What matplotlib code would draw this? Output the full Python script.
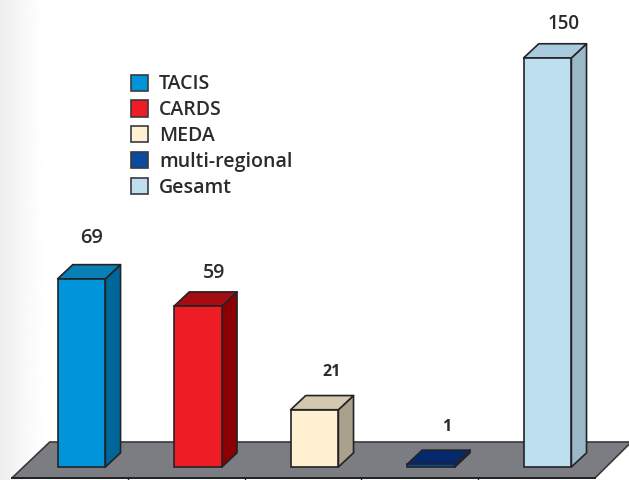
import numpy as np
import matplotlib
matplotlib.use('Agg')
import matplotlib.pyplot as plt
from matplotlib.patches import Patch

categories = ['TACIS', 'CARDS', 'MEDA', 'multi-regional', 'Gesamt']
values = [69, 59, 21, 1, 150]

# front, side, top colours of each bar
front_colours = ['#0095DB', '#EE1C25', '#FFF0D2', '#0D4BA0', '#BDDFEF']
side_colours = ['#00679B', '#8C0004', '#A9A18C', '#06296F', '#9BB8C8']
top_colours = ['#0880B5', '#A50D12', '#D3C9AE', '#04296F', '#A9CBDD']
legend_colours = ['#0095DB', '#EE1C25', '#FFF0D2', '#0A4AA0', '#BDDFEF']

# label placement in pixels from top of the bar, and font size
label_dx = [10, 16, 17, 16, 16]
label_dy = [41, 33, 38, 37, 34]
label_size = [14.5, 14, 11.5, 11.5, 13.5]
label_weight = ['semibold', 'semibold', 'bold', 'bold', 'semibold']

edge = '#232326'
bar_width = 0.41
depth_x = 0.13
depth_y = 5.2

fig = plt.figure(figsize=(6.29, 4.80), dpi=100)
ax = fig.add_axes([0, 0, 1, 1])

plt.rcParams['font.family'] = ['Open Sans', 'DejaVu Sans']

# page shadow on the left
shade = np.array([1.0 - 0.07 * np.linspace(1, 0, 50) ** 1.5])
ax.imshow(shade, cmap='gray', vmin=0, vmax=1, aspect='auto', zorder=0,
          extent=(-81.5 / 116.5, -31.5 / 116.5, -13 / 2.727, 467 / 2.727))

# one category = 116.5 px, one unit = 2.727 px
ax.set_xlim(-81.5 / 116.5, (629 - 81.5) / 116.5)
ax.set_ylim(-13 / 2.727, 467 / 2.727)

# floor
ax.fill([-0.597, -0.2725, 4.72, 4.408], [-4.03, 9.17, 9.17, -4.03],
        facecolor='#7C7D82', edgecolor='#3a3a3d', linewidth=1.2, zorder=1)

for i, v in enumerate(values):
    x0 = i - bar_width / 2
    x1 = i + bar_width / 2
    # side face
    ax.fill([x1, x1 + depth_x, x1 + depth_x, x1], [0, depth_y, v + depth_y, v],
            facecolor=side_colours[i], edgecolor=edge, linewidth=1.2,
            joinstyle='round', zorder=2)
    # top face
    ax.fill([x0, x0 + depth_x, x1 + depth_x, x1], [v, v + depth_y, v + depth_y, v],
            facecolor=top_colours[i], edgecolor=edge, linewidth=1.2,
            joinstyle='round', zorder=2)
    ax.annotate(str(v), xy=(i, v), xytext=(label_dx[i], label_dy[i]),
                textcoords='offset pixels', ha='center', va='center',
                fontsize=label_size[i], fontweight=label_weight[i], color='#2b2b2e')

ax.bar(range(len(values)), values, width=bar_width, color=front_colours,
       edgecolor=edge, linewidth=1.2, zorder=3)

# baseline with ticks
for s in ['top', 'left', 'right']:
    ax.spines[s].set_visible(False)
ax.spines['bottom'].set_position(('data', -4.03))
ax.spines['bottom'].set_bounds(-0.597, 4.408)
ax.spines['bottom'].set_linewidth(1.4)
ax.spines['bottom'].set_color(edge)
ax.set_xticks([0.4, 1.4, 2.4, 3.4])
ax.set_xticklabels([])
ax.set_yticks([])
ax.tick_params(axis='x', length=2, width=1, color=edge)

handles = [Patch(facecolor=c, edgecolor='#3a3a3d', linewidth=1.2) for c in legend_colours]
ax.legend(handles, categories, loc='upper left', bbox_to_anchor=(0.208, 0.845),
          frameon=False, handlelength=0.9, handleheight=0.9,
          handletextpad=0.55, labelspacing=0.3, borderpad=0, borderaxespad=0,
          labelcolor='#2b2b2e', prop={'size': 14, 'weight': 'semibold'})

fig.savefig('out.png', dpi=100)
